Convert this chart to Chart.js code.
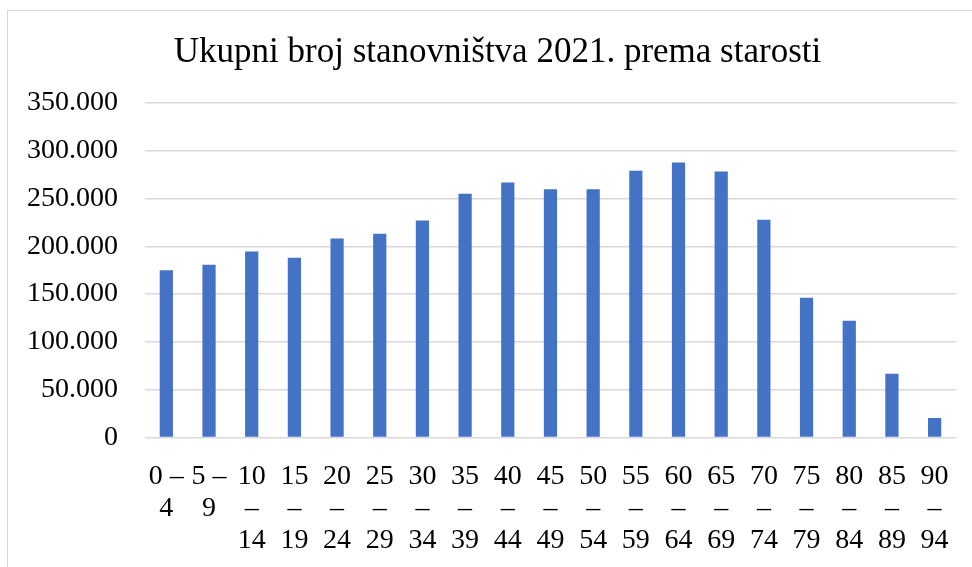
<!DOCTYPE html>
<html>
<head>
<meta charset="utf-8">
<script src="https://cdn.jsdelivr.net/npm/chart.js@4/dist/chart.umd.min.js"></script>
<style>
  html, body { margin: 0; padding: 0; background: #fff; overflow: hidden; }
  #wrap { position: relative; width: 972px; height: 567px; }
  #frame { position: absolute; left: 7px; top: 9.5px; width: 1000px; height: 600px; border: 1.5px solid #d9d9d9; box-sizing: border-box; pointer-events: none; }
  canvas { position: absolute; left: 0; top: 0; }
</style>
</head>
<body>
<div id="wrap">
  <div id="frame"></div>
  <canvas id="c" width="972" height="567"></canvas>
</div>
<script>
const chartTitle = "Ukupni broj stanovništva 2021. prema starosti";
const ageStart = [0, 5, 10, 15, 20, 25, 30, 35, 40, 45, 50, 55, 60, 65, 70, 75, 80, 85, 90];
const ageEnd   = [4, 9, 14, 19, 24, 29, 34, 39, 44, 49, 54, 59, 64, 69, 74, 79, 84, 89, 94];
const population = [175000, 180700, 194700, 188000, 208300, 213200, 227100, 255100, 266700, 259600,
                    259600, 279200, 287600, 278200, 227900, 146100, 122000, 66500, 20300];
const yTicks = [0, 50000, 100000, 150000, 200000, 250000, 300000, 350000];

const labels = ageStart.map((s, i) => s < 10 ? [s + " –", String(ageEnd[i])] : [String(s), "–", String(ageEnd[i])]);

function fmt(v) {
  return String(Math.round(v)).replace(/\B(?=(\d{3})+(?!\d))/g, ".");
}

const serif = "'Liberation Serif', 'Times New Roman', serif";

const titleShift = {
  id: 'titleShift',
  afterLayout(chart) {
    if (chart.titleBlock) { chart.titleBlock.left += 38; }
  }
};

new Chart(document.getElementById('c'), {
  type: 'bar',
  data: {
    labels: labels,
    datasets: [{
      data: population,
      backgroundColor: '#4472C4',
      borderWidth: 0,
      barPercentage: 0.31,
      categoryPercentage: 1.0
    }]
  },
  plugins: [titleShift],
  options: {
    responsive: false,
    animation: false,
    layout: { padding: { left: 0, right: 15, top: 0, bottom: 10 } },
    plugins: {
      legend: { display: false },
      tooltip: { enabled: false },
      title: {
        display: true,
        text: chartTitle,
        color: '#000',
        font: { family: serif, size: 35, weight: 'normal', lineHeight: 1.2 },
        padding: { top: 32, bottom: 29 }
      }
    },
    scales: {
      x: {
        grid: { display: false, drawTicks: false },
        border: { display: false },
        afterFit: (axis) => { axis.height -= 23; },
        ticks: {
          color: '#000',
          font: { family: serif, size: 28, lineHeight: 1.15 },
          padding: 23,
          maxRotation: 0,
          autoSkip: false
        }
      },
      y: {
        min: 0,
        max: 350000,
        afterBuildTicks: (axis) => { axis.ticks = yTicks.map(v => ({ value: v })); },
        grid: { color: '#d9d9d9', lineWidth: 1.5, drawTicks: false },
        border: { display: false },
        ticks: {
          color: '#000',
          font: { family: serif, size: 28 },
          padding: 27,
          callback: (v) => fmt(v)
        }
      }
    }
  }
});
</script>
</body>
</html>
